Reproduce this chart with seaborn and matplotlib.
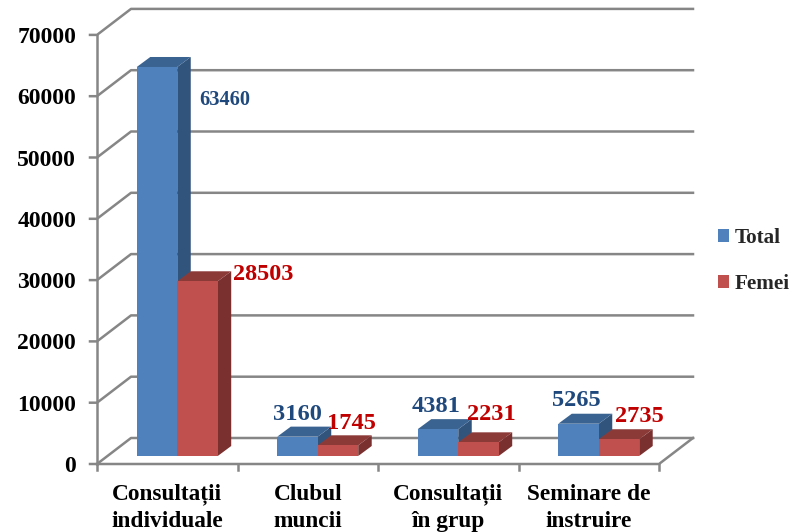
import pandas as pd
import seaborn as sns
import matplotlib.pyplot as plt
from matplotlib.patches import Polygon
from matplotlib.transforms import ScaledTranslation

# Values
categories = ["Consultații\nindividuale", "Clubul\nmuncii", "Consultații\nîn grup", "Seminare de\ninstruire"]
total = [63460, 3160, 4381, 5265]
femei = [28503, 1745, 2231, 2735]
y_ticks = [0, 10000, 20000, 30000, 40000, 50000, 60000, 70000]

# Pixel scale of the plot
PX_X = 140.5        # pixels per category
PX_Y = 61.3 / 10000 # pixels per unit
BAR_DEPTH = (13.5, 10)
FRONT = (-10, -8)   # front floor edge, relative to the bars
BACK = (24, 18)     # back wall, relative to the bars

GRID = "#868686"
BLUE = ("#4F81BD", "#3A6391", "#31547C")
RED = ("#C0504D", "#8C3A38", "#79302E")
BLUE_TEXT = "#1F497D"
RED_TEXT = "#C00000"

# label offsets from the top centre of each bar, in pixels
total_offsets = [(68, -33), (0, 22), (-2, 23), (-2, 23)]
femei_offsets = [(66, 7), (13, 22), (13, 28), (20, 23)]
total_sizes = [14.7, 17.6, 17.6, 17.6]
femei_sizes = [17.5, 17.6, 17.6, 17.6]


def dx(px):
    return px / PX_X


def dy(px):
    return px / PX_Y


sns.set_theme(style="white")
plt.rcParams["font.family"] = ["Liberation Serif", "DejaVu Serif"]
plt.rcParams["font.weight"] = "bold"

W, H = 792, 532
fig = plt.figure(figsize=(W / 100, H / 100), dpi=100, facecolor="white")
ax = fig.add_axes([107 / W, (H - 456) / H, 4 * PX_X / W, 7 * PX_Y * 10000 / H])
ax.patch.set_visible(False)

df = pd.DataFrame({
    "categorie": categories * 2,
    "serie": ["Total"] * 4 + ["Femei"] * 4,
    "valoare": total + femei,
})
sns.barplot(data=df, x="categorie", y="valoare", hue="serie",
            palette={"Total": BLUE[0], "Femei": RED[0]},
            saturation=1, width=0.576, gap=0, linewidth=0, edgecolor="none", ax=ax, zorder=5)

ax.set_xlim(-0.5, 3.5)
ax.set_ylim(0, 70000)
ax.set_xlabel("")
ax.set_ylabel("")
sns.despine(ax=ax, left=True, bottom=True)

# Walls and floor
x0, x1 = -0.5, 3.5
fx, fy = dx(FRONT[0]), dy(FRONT[1])
bx, by = dx(BACK[0]), dy(BACK[1])
line = dict(color=GRID, lw=1.8, clip_on=False, zorder=1, solid_capstyle="projecting")
for v in y_ticks:
    ax.plot([x0 + fx - dx(7), x0 + fx, x0 + bx, x1 + bx],
            [v + fy, v + fy, v + by, v + by], **line)
ax.plot([x0 + fx, x0 + fx], [fy, 70000 + fy], **line)
ax.plot([x0 + fx, x1 + fx, x1 + bx], [fy, fy, by], **line)
for i in range(5):
    ax.plot([x0 + fx + i, x0 + fx + i], [fy, fy - dy(6)], **line)

# Sides and tops of the bars, from the bars seaborn drew
ddx, ddy = dx(BAR_DEPTH[0]), dy(BAR_DEPTH[1])
for n, (container, colors) in enumerate(zip(ax.containers, (BLUE, RED))):
    z = 3 + 3 * n
    for bar in container:
        bar.set_zorder(z + 1)
        left, right = bar.get_x(), bar.get_x() + bar.get_width()
        top = bar.get_height()
        ax.add_patch(Polygon([(right, 0), (right + ddx, ddy), (right + ddx, top + ddy), (right, top)],
                             fc=colors[2], ec="none", clip_on=False, zorder=z))
        ax.add_patch(Polygon([(left, top), (left + ddx, top + ddy), (right + ddx, top + ddy), (right, top)],
                             fc=colors[1], ec="none", clip_on=False, zorder=z))

# Value labels
groups = [(total, total_offsets, total_sizes, BLUE_TEXT), (femei, femei_offsets, femei_sizes, RED_TEXT)]
for container, (values, offsets, sizes, color) in zip(ax.containers, groups):
    for bar, v, off, size in zip(container, values, offsets, sizes):
        ax.annotate(str(v), (bar.get_x() + bar.get_width() / 2, v),
                    xytext=(off[0] * 0.72, off[1] * 0.72), textcoords="offset points",
                    ha="center", va="center", color=color, fontsize=size,
                    fontweight="bold", annotation_clip=False, zorder=12)

# Axis labels, moved to the front edge of the floor
ax.set_yticks(y_ticks)
ax.set_yticklabels([str(v) for v in y_ticks], fontsize=17, fontweight="bold", color="black")
ax.tick_params(axis="y", length=0, pad=22.3)
ax.tick_params(axis="x", length=0, pad=20)
ax.set_xticks(range(4))
ax.set_xticklabels(categories, fontsize=16.8, fontweight="bold", color="black", linespacing=1.36)
for lab in ax.get_yticklabels():
    lab.set_transform(lab.get_transform() + ScaledTranslation(0, -8 / 100, fig.dpi_scale_trans))
for lab in ax.get_xticklabels():
    lab.set_transform(lab.get_transform() + ScaledTranslation(-10 / 100, 0, fig.dpi_scale_trans))

handles, labels = ax.get_legend_handles_labels()
ax.legend(handles, labels, loc="center left", bbox_to_anchor=(714 / W, (H - 261) / H),
          bbox_transform=fig.transFigure, frameon=False, fontsize=15.2,
          handlelength=0.52, handleheight=0.52, handletextpad=0.25, labelspacing=1.22,
          borderpad=0, borderaxespad=0.2)

fig.savefig("out.png", dpi=100)
